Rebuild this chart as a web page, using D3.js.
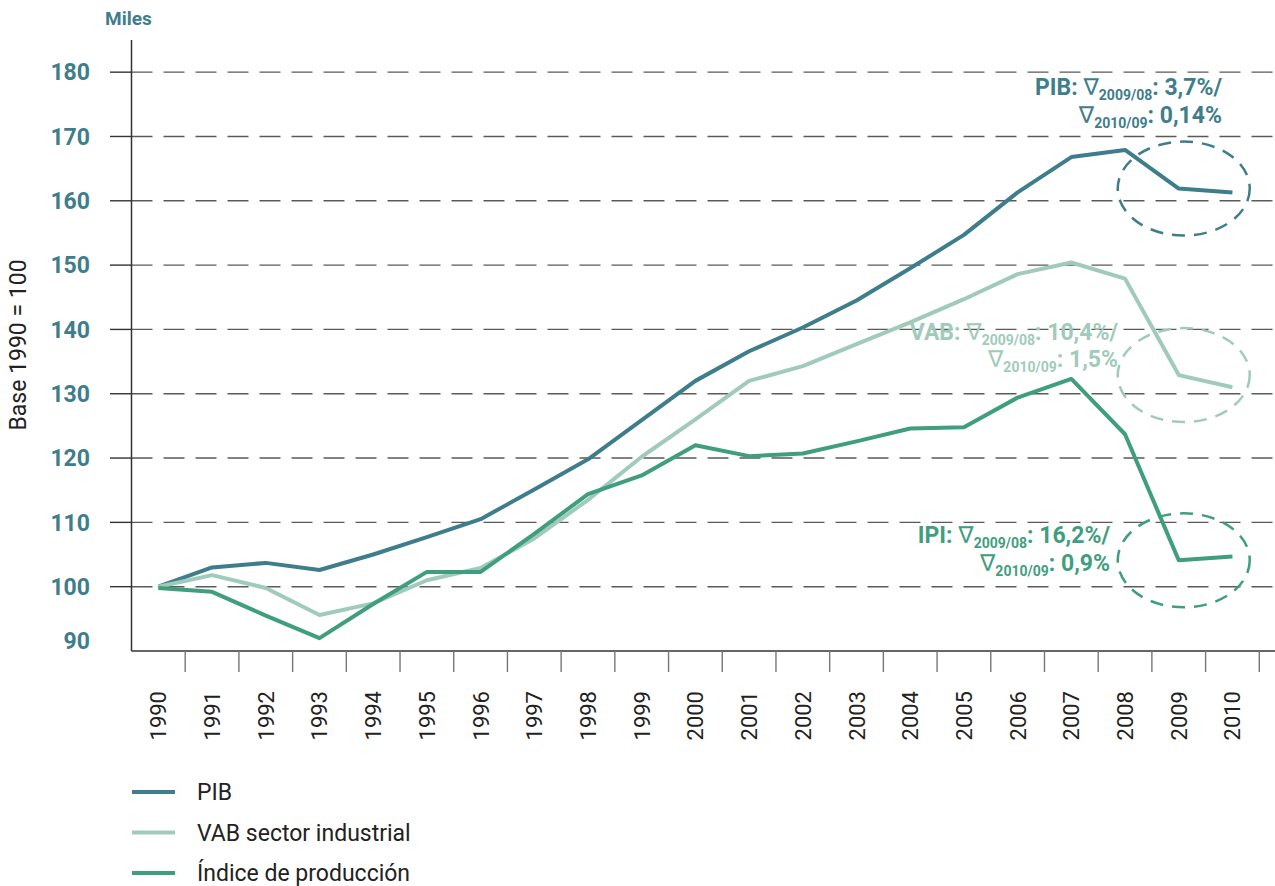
<!DOCTYPE html>
<html>
<head>
<meta charset="utf-8">
<script src="https://d3js.org/d3.v7.min.js"></script>
<style>
  body { margin: 0; background: #fff; }
  text { font-family: Roboto, "DejaVu Sans", sans-serif; }
</style>
</head>
<body>
<div id="chart"></div>
<script>
const width = 1275;
const height = 886;

// DATA
const years = ["1990", "1991", "1992", "1993", "1994", "1995", "1996", "1997", "1998", "1999", "2000",
  "2001", "2002", "2003", "2004", "2005", "2006", "2007", "2008", "2009", "2010"];

const pib = [100, 103.0, 103.7, 102.6, 105.0, 107.7, 110.5, 115.1, 119.8, 125.9, 132.0,
  136.6, 140.3, 144.5, 149.5, 154.7, 161.3, 166.8, 167.9, 161.9, 161.3];

const vab = [100, 101.8, 99.8, 95.6, 97.4, 101.0, 102.9, 107.5, 113.5, 120.2, 126.0,
  132.0, 134.3, 137.7, 141.1, 144.7, 148.6, 150.4, 147.9, 132.9, 131.0];

const ipi = [99.8, 99.2, 95.5, 92.0, 97.3, 102.3, 102.3, 108.2, 114.4, 117.3, 122.0,
  120.3, 120.7, 122.6, 124.6, 124.8, 129.4, 132.3, 123.7, 104.1, 104.7];

const yTicks = [90, 100, 110, 120, 130, 140, 150, 160, 170, 180];

const seriesNames = ["PIB", "VAB sector industrial", "Índice de producción"];
const colors = ["#3e7d8b", "#a0cbbb", "#3f9e7e"];

const notes = [
  { key: "PIB", first: "3,7%/", second: "0,14%", values: pib, color: colors[0], lines: [95, 123], right: 1222 },
  { key: "VAB", first: "10,4%/", second: "1,5%", values: vab, color: colors[1], lines: [340, 367], right: 1118 },
  { key: "IPI", first: "16,2%/", second: "0,9%", values: ipi, color: colors[2], lines: [543, 571], right: 1110 }
];

const plotLeft = 131.5;
const plotRight = 1259.3;
const plotTop = 40;
const plotBottom = 651;

const svg = d3
  .select("#chart")
  .append("svg")
  .attr("width", width)
  .attr("height", height);

const x = d3.scaleBand().domain(years).range([plotLeft, plotRight]).padding(0);
const y = d3.scaleLinear().domain([90, 185]).range([plotBottom, plotTop]);
const xc = (d) => x(d) + x.bandwidth() / 2;

// GRID
const grid = svg.append("g");

grid
  .selectAll("line.grid")
  .data(yTicks.filter((d) => d > 90))
  .enter()
  .append("line")
  .attr("class", "grid")
  .attr("x1", plotLeft)
  .attr("x2", width)
  .attr("y1", (d) => y(d))
  .attr("y2", (d) => y(d))
  .attr("stroke", "#5a5a5a")
  .attr("stroke-width", 1.4)
  .attr("stroke-dasharray", "21,11");

grid
  .selectAll("line.stub")
  .data(yTicks.filter((d) => d > 90))
  .enter()
  .append("line")
  .attr("class", "stub")
  .attr("x1", 110)
  .attr("x2", plotLeft)
  .attr("y1", (d) => y(d))
  .attr("y2", (d) => y(d))
  .attr("stroke", "#333")
  .attr("stroke-width", 1.4);

// AXES
svg
  .append("line")
  .attr("x1", plotLeft)
  .attr("x2", plotLeft)
  .attr("y1", plotTop)
  .attr("y2", plotBottom)
  .attr("stroke", "#333")
  .attr("stroke-width", 1.5);

svg
  .append("line")
  .attr("x1", plotLeft)
  .attr("x2", width)
  .attr("y1", plotBottom)
  .attr("y2", plotBottom)
  .attr("stroke", "#333")
  .attr("stroke-width", 1.5);

svg
  .append("g")
  .selectAll("line")
  .data(years)
  .enter()
  .append("line")
  .attr("x1", (d) => x(d) + x.bandwidth())
  .attr("x2", (d) => x(d) + x.bandwidth())
  .attr("y1", plotBottom)
  .attr("y2", plotBottom + 21)
  .attr("stroke", "#777")
  .attr("stroke-width", 1.4);

svg
  .append("g")
  .selectAll("text")
  .data(years)
  .enter()
  .append("text")
  .attr("transform", (d) => `translate(${xc(d) + 8}, 691) rotate(-90)`)
  .attr("text-anchor", "end")
  .attr("font-size", 22)
  .attr("fill", "#222")
  .text((d) => d);

svg
  .append("g")
  .selectAll("text")
  .data(yTicks)
  .enter()
  .append("text")
  .attr("x", 90)
  .attr("y", (d) => (d === 90 ? y(d) - 10 : y(d)))
  .attr("dy", "0.36em")
  .attr("text-anchor", "end")
  .attr("font-size", 23)
  .attr("font-weight", "bold")
  .attr("fill", colors[0])
  .text((d) => d);

svg
  .append("text")
  .attr("x", 105)
  .attr("y", 25)
  .attr("font-size", 19)
  .attr("font-weight", "bold")
  .attr("fill", colors[0])
  .text("Miles");

svg
  .append("text")
  .attr("transform", "translate(26, 345) rotate(-90)")
  .attr("text-anchor", "middle")
  .attr("font-size", 23)
  .attr("fill", "#222")
  .text("Base 1990 = 100");

// LINES
const line = d3
  .line()
  .x((d, i) => xc(years[i]))
  .y((d) => y(d));

svg
  .append("g")
  .selectAll("path")
  .data([pib, vab, ipi])
  .enter()
  .append("path")
  .attr("d", line)
  .attr("fill", "none")
  .attr("stroke", (d, i) => colors[i])
  .attr("stroke-width", 4)
  .attr("stroke-linejoin", "round");

// ANNOTATIONS
const ann = svg.append("g").selectAll("g").data(notes).enter().append("g");

ann
  .append("ellipse")
  .attr("cx", (d) => xc("2009") + 5)
  .attr("cy", (d) => y(d.values[years.indexOf("2009")]))
  .attr("rx", 66)
  .attr("ry", 47)
  .attr("fill", "none")
  .attr("stroke", (d) => d.color)
  .attr("stroke-width", 2.5)
  .attr("stroke-dasharray", "13,9");

function noteLine(sel, lineIndex) {
  const t = sel
    .append("text")
    .attr("x", (d) => d.right)
    .attr("y", (d) => d.lines[lineIndex])
    .attr("text-anchor", "end")
    .attr("font-size", 23)
    .attr("font-weight", "bold")
    .attr("fill", (d) => d.color);
  if (lineIndex === 0) {
    t.append("tspan").text((d) => d.key + ": ");
  }
  t.append("tspan")
    .attr("font-weight", "normal")
    .attr("font-family", "DejaVu Sans")
    .text("∇");
  t.append("tspan")
    .attr("font-size", 14)
    .attr("dy", 5)
    .text(lineIndex === 0 ? "2009/08" : "2010/09");
  t.append("tspan")
    .attr("dy", -5)
    .text((d) => ": " + (lineIndex === 0 ? d.first : d.second));
}

noteLine(ann, 0);
noteLine(ann, 1);

// LEGEND
const legend = svg
  .append("g")
  .selectAll("g")
  .data(seriesNames)
  .enter()
  .append("g")
  .attr("transform", (d, i) => `translate(0, ${792 + i * 40.5})`);

legend
  .append("line")
  .attr("x1", 132)
  .attr("x2", 175)
  .attr("stroke", (d, i) => colors[i])
  .attr("stroke-width", 4);

legend
  .append("text")
  .attr("x", 197)
  .attr("y", 8)
  .attr("font-size", 23)
  .attr("fill", "#222")
  .text((d) => d);
</script>
</body>
</html>
